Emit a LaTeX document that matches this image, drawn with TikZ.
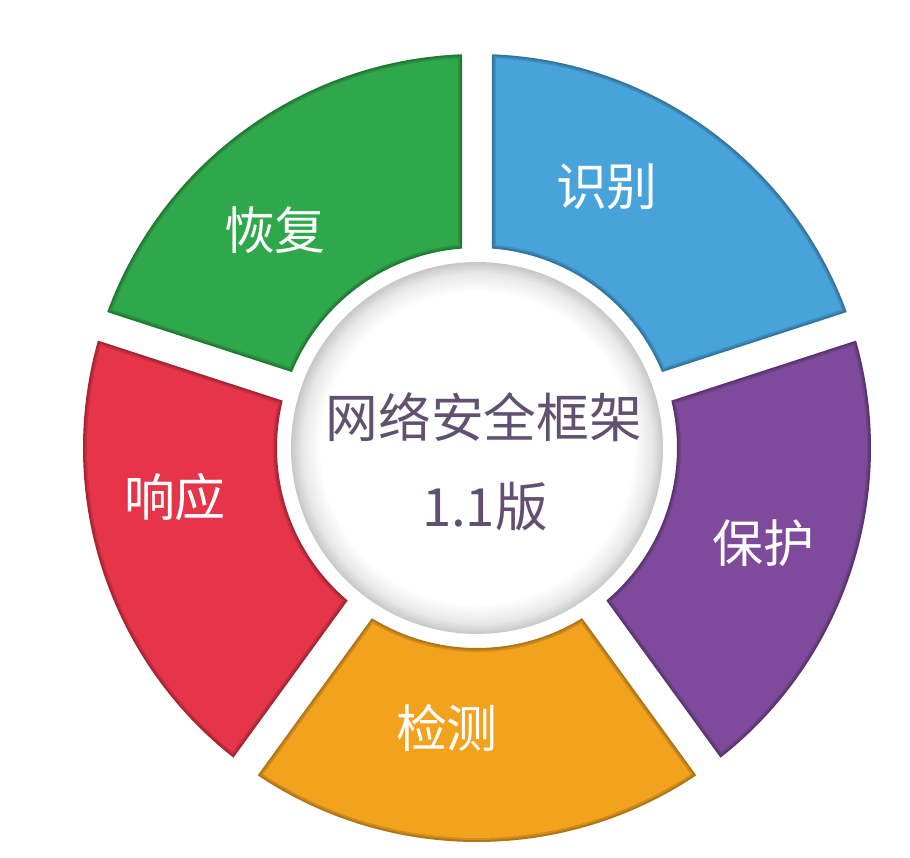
\documentclass[tikz,border=0pt]{standalone}
\usepackage{fontspec}
\newfontfamily\cjk{Noto Sans CJK SC}
\definecolor{segGreen}{RGB}{46,168,74}
\definecolor{segBlue}{RGB}{72,163,219}
\definecolor{segPurple}{RGB}{127,74,155}
\definecolor{segOrange}{RGB}{243,162,30}
\definecolor{segRed}{RGB}{230,52,72}
\definecolor{hubInk}{RGB}{98,80,112}
\pgfdeclareradialshading{rimshade}{\pgfpoint{0bp}{0bp}}{color(0bp)=(white); color(21bp)=(white); color(23.5bp)=(black!9); color(25bp)=(black!22); color(50bp)=(black!22)}

\begin{document}
\begin{tikzpicture}[x=0.02cm, y=0.02cm,
    seglabel/.style={text=white, font=\cjk\fontsize{29}{34}\selectfont},
    hubtext/.style={text=hubInk, font=\cjk\fontsize{30}{36}\selectfont}
]
    \fill[white] (-477,-410) rectangle (433,448);
    \useasboundingbox (-477,-410) rectangle (433,448);

    % Ring segments
    \foreach \a/\col in {90/segGreen, 18/segBlue, -54/segPurple, -126/segOrange, 162/segRed} {
        \foreach \k/\tone in {0/72, 2/86, 4/100} {
            \pgfmathsetmacro{\ro}{394-\k}
            \pgfmathsetmacro{\ri}{200+\k}
            \pgfmathsetmacro{\dO}{asin((15+\k)/\ro)}
            \pgfmathsetmacro{\dI}{asin((15+\k)/\ri)}
            \fill[\col!\tone!black] ({\a+\dO}:\ro) arc[start angle=\a+\dO, end angle=\a+72-\dO, radius=\ro]
                -- ({\a+72-\dI}:\ri) arc[start angle=\a+72-\dI, end angle=\a+\dI, radius=\ri] -- cycle;
        }
    }

    % Centre disc
    \node (hub) [circle, minimum size=7.44cm, inner sep=0pt, shading=rimshade] at (0,0) {};
    \node[hubtext] (hubtitle) at (7,31) {网络安全框架};
    \node[hubtext] (hubver) at (8,-59) {1.1版};

    % Segment labels
    \node[seglabel] (recover) at (-202,218) {恢复};
    \node[seglabel] (identify) at (130,261) {识别};
    \node[seglabel] (protect) at (286,-95) {保护};
    \node[seglabel] (detect) at (-30,-280) {检测};
    \node[seglabel] (respond) at (-302,-49) {响应};
\end{tikzpicture}
\end{document}
